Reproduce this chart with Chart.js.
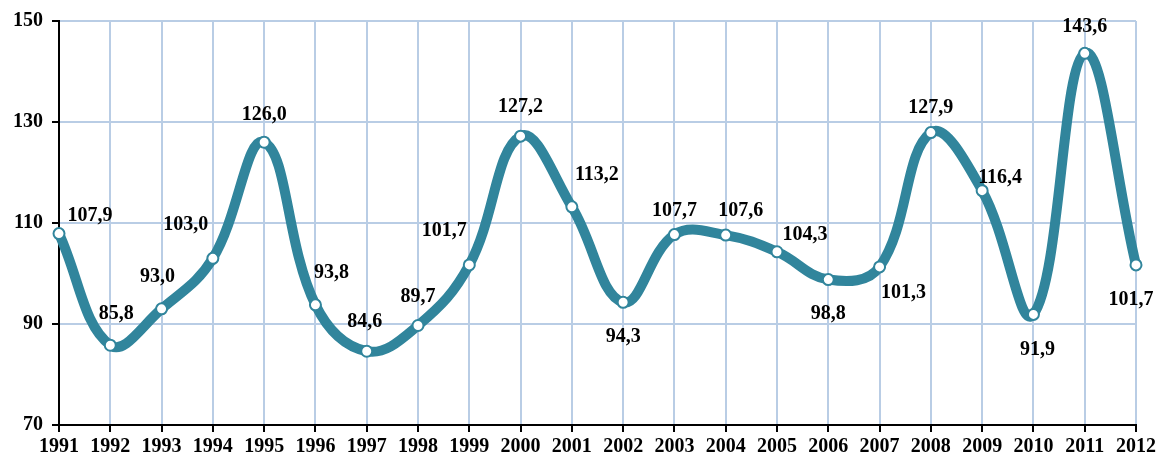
<!DOCTYPE html>
<html>
<head>
<meta charset="utf-8">
<script src="https://cdn.jsdelivr.net/npm/chart.js@4/dist/chart.umd.min.js"></script>
<style>
html,body{margin:0;padding:0;background:#fff;}
#wrap{width:1161px;height:457px;position:relative;}
</style>
</head>
<body>
<div id="wrap"><canvas id="c" width="1161" height="457"></canvas></div>
<script>
const years = ['1991','1992','1993','1994','1995','1996','1997','1998','1999','2000','2001','2002','2003','2004','2005','2006','2007','2008','2009','2010','2011','2012'];
const values = [107.9,85.8,93.0,103.0,126.0,93.8,84.6,89.7,101.7,127.2,113.2,94.3,107.7,107.6,104.3,98.8,101.3,127.9,116.4,91.9,143.6,101.7];
const yTicks = [70,90,110,130,150];
// label offsets (style only) relative to each point, in px
const labelDx = [31,6,-4,-27,0,16,-2,0,-25,0,25,0,0,15,28,0,24,0,18,4,0,-5];
const labelDy = [-18,-31,-32,-34,-27,-32,-29,-29,-34,-29,-32,35,-24,-24,-17,34,26,-25,-13,35,-26,35];

const teal = '#31859c';
const grid = '#b9cde5';
const serif = '"Liberation Serif", "Times New Roman", serif';

const labelPlugin = {
  id: 'valueLabels',
  afterDatasetsDraw(chart) {
    const ctx = chart.ctx;
    const meta = chart.getDatasetMeta(0);
    ctx.save();
    ctx.font = 'bold 20px ' + serif;
    ctx.fillStyle = '#000';
    ctx.textAlign = 'center';
    ctx.textBaseline = 'middle';
    meta.data.forEach((pt, i) => {
      const txt = values[i].toFixed(1).replace('.', ',');
      ctx.fillText(txt, pt.x + labelDx[i], pt.y + labelDy[i]);
    });
    ctx.restore();
  }
};

new Chart(document.getElementById('c'), {
  type: 'line',
  data: {
    labels: years,
    datasets: [{
      data: values,
      borderColor: teal,
      borderWidth: 10,
      tension: 0.4,
      cubicInterpolationMode: 'default',
      pointRadius: 5.5,
      pointBorderWidth: 2,
      pointBackgroundColor: '#fff',
      pointBorderColor: teal,
      fill: false
    }]
  },
  options: {
    responsive: false,
    animation: false,
    layout: { padding: { top: 20, right: 25, left: 0, bottom: 0 } },
    plugins: { legend: { display: false }, tooltip: { enabled: false } },
    scales: {
      x: {
        offset: false,
        grid: { color: grid, lineWidth: 2, tickLength: 7, tickColor: '#000', drawOnChartArea: true },
        border: { color: '#000', width: 2 },
        ticks: { color: '#000', font: { family: serif, size: 20, weight: 'bold' }, padding: 3, maxRotation: 0, autoSkip: false },
        afterFit(s) { s.height = 32; }
      },
      y: {
        min: 70, max: 150,
        afterBuildTicks(s) { s.ticks = yTicks.map(v => ({ value: v })); },
        grid: { color: grid, lineWidth: 2, tickLength: 7, tickColor: '#000' },
        border: { color: '#000', width: 2 },
        ticks: { color: '#000', font: { family: serif, size: 20, weight: 'bold' }, padding: 9 },
        afterFit(s) { s.width = 59; }
      }
    }
  },
  plugins: [labelPlugin]
});
</script>
</body>
</html>
